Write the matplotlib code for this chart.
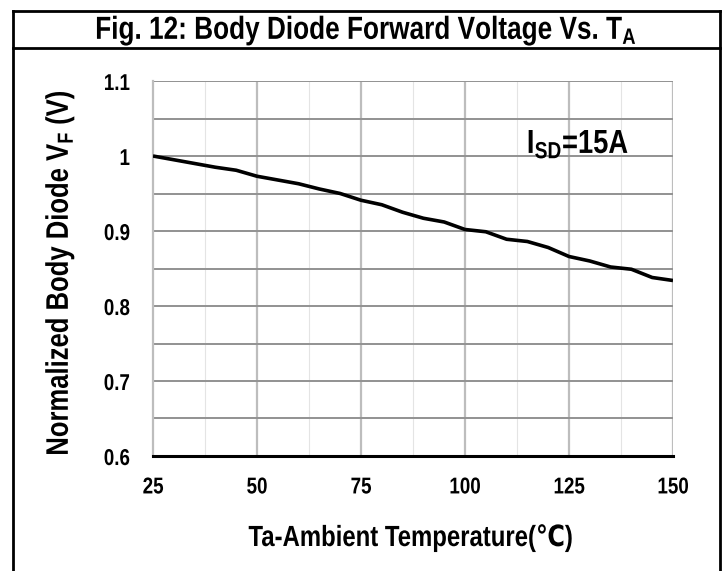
import matplotlib
matplotlib.use("Agg")
import matplotlib.pyplot as plt
from matplotlib.lines import Line2D
from matplotlib.patheffects import AbstractPathEffect
from matplotlib.transforms import Affine2D

temps = [25, 30, 35, 40, 45, 50, 55, 60, 65, 70, 75, 80, 85, 90, 95, 100,
         105, 110, 115, 120, 125, 130, 135, 140, 145, 150]
vf_norm = [1.000, 0.995, 0.990, 0.985, 0.981, 0.973, 0.968, 0.963, 0.956, 0.950,
           0.941, 0.935, 0.925, 0.917, 0.912, 0.902, 0.899, 0.889, 0.886, 0.878,
           0.866, 0.860, 0.852, 0.849, 0.838, 0.834]
x_ticks = [25, 50, 75, 100, 125, 150]
y_ticks = [0.6, 0.7, 0.8, 0.9, 1.0, 1.1]
y_tick_labels = ["0.6", "0.7", "0.8", "0.9", "1", "1.1"]


class Condense(AbstractPathEffect):
    """Squeeze text horizontally (along its baseline) to mimic a narrow font."""

    def __init__(self, sx=0.82, anchor="center"):
        super().__init__()
        self.sx = sx
        self.anchor = anchor

    def draw_path(self, renderer, gc, tpath, affine, rgbFace=None):
        ext = tpath.get_extents()
        if self.anchor == "center":
            cx = (ext.x0 + ext.x1) / 2
        elif self.anchor == "right":
            cx = ext.x1
        else:
            cx = 0
        t = Affine2D().translate(-cx, 0).scale(self.sx, 1).translate(cx, 0) + affine
        renderer.draw_path(gc, tpath, t, rgbFace)


main = "Liberation Sans"
fam = [main, "DejaVu Sans"]
plt.rcParams['font.family'] = fam
plt.rcParams['font.weight'] = 'bold'
plt.rcParams['mathtext.fontset'] = 'custom'
plt.rcParams['mathtext.rm'] = main + ':bold'
plt.rcParams['mathtext.bf'] = main + ':bold'
plt.rcParams['mathtext.it'] = main + ':bold'

W, H = 728, 571
fig = plt.figure(figsize=(W / 100, H / 100), dpi=100)


def fx(px):
    return px / W


def fy(py):
    return 1 - py / H


ax = fig.add_axes([fx(153), fy(456), fx(673) - fx(153), fy(81) - fy(456)])
ax.set_xlim(25, 150)
ax.set_ylim(0.6, 1.1)

# grid
for t in [37.5, 62.5, 87.5, 112.5, 137.5]:
    ax.axvline(t, color="#e4e4e4", lw=0.8, zorder=1)
for t in [50, 75, 100, 125, 150]:
    ax.axvline(t, color="#bdbdbd", lw=1.6, zorder=1)
for v in [0.65, 0.7, 0.75, 0.8, 0.85, 0.9, 0.95, 1.0, 1.05, 1.1]:
    ax.axhline(v, color="#929292", lw=1.4, zorder=1)

ax.plot(temps, vf_norm, color="black", lw=2.6, zorder=3, solid_capstyle="butt")

for s in ["top", "right"]:
    ax.spines[s].set_visible(False)
ax.spines["left"].set_color("#bdbdbd")
ax.spines["left"].set_linewidth(1.6)
ax.spines["bottom"].set_color("black")
ax.spines["bottom"].set_linewidth(2.2)
ax.spines["bottom"].set_zorder(4)

ax.set_xticks(x_ticks)
ax.set_xticklabels([str(t) for t in x_ticks])
ax.set_yticks(y_ticks)
ax.set_yticklabels(y_tick_labels)
ax.tick_params(axis="both", length=0, labelsize=16.5)
ax.tick_params(axis="x", pad=14)
ax.tick_params(axis="y", pad=16.5)
for lab in ax.get_xticklabels():
    lab.set_fontweight("bold")
    lab.set_path_effects([Condense(0.82, "center")])
for lab in ax.get_yticklabels():
    lab.set_fontweight("bold")
    lab.set_path_effects([Condense(0.82, "right")])

fig.text(fx(410.5), fy(546), "Ta-Ambient Temperature(\u2103)", ha="center", va="baseline",
         fontsize=21, fontweight="bold", family=fam,
         path_effects=[Condense(0.82, "center")])
fig.text(fx(60), fy(273), r"Normalized Body Diode V$_\mathregular{F}$ (V)", ha="center",
         va="center", rotation=90, fontsize=22.5, fontweight="bold", family=fam,
         path_effects=[Condense(0.82, "center")])

fig.text(fx(578), fy(153), r"I$_\mathregular{SD}$=15A", ha="center",
         va="baseline", fontsize=24, fontweight="bold", zorder=5,
         path_effects=[Condense(0.82, "center")])

fig.text(fx(366.5), fy(39), r"Fig. 12: Body Diode Forward Voltage Vs. T$_\mathregular{A}$",
         ha="center", va="baseline", fontsize=23, fontweight="bold", family=fam,
         path_effects=[Condense(0.82, "center")])

# frame
kw = dict(color="black", lw=2, transform=fig.transFigure)
fig.add_artist(Line2D([fx(13), fx(13)], [fy(11), 0], **kw))
fig.add_artist(Line2D([fx(720), fx(720)], [fy(11), 0], **kw))
fig.add_artist(Line2D([fx(13), fx(720)], [fy(11), fy(11)], **kw))
fig.add_artist(Line2D([fx(13), fx(720)], [fy(48), fy(48)], **kw))

fig.savefig("out.png", dpi=100)
